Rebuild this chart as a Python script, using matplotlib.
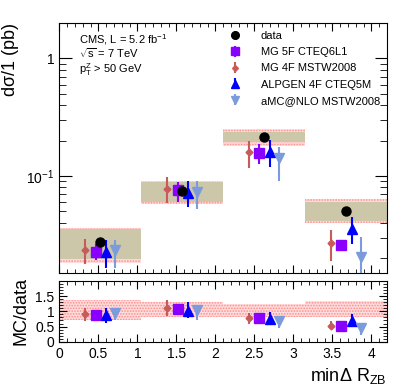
import matplotlib
matplotlib.use('Agg')
import matplotlib.pyplot as plt
import numpy as np
from matplotlib.ticker import MultipleLocator, FixedLocator, NullFormatter

plt.rcParams['font.family'] = ['Liberation Sans', 'DejaVu Sans']
plt.rcParams['mathtext.fontset'] = 'custom'
plt.rcParams['mathtext.rm'] = 'Liberation Sans'
plt.rcParams['mathtext.it'] = 'Liberation Sans'
plt.rcParams['hatch.linewidth'] = 0.8

# bins in min Delta R_ZB
edges = np.array([0, 1.05, 2.1, 3.15, 4.2])

# measured cross section and uncertainty boxes (pb)
data = [0.0274, 0.0746, 0.215, 0.0508]
box_lo = [0.0196, 0.0606, 0.195, 0.0418]
box_hi = [0.0353, 0.0895, 0.235, 0.0606]
band_lo = [0.0184, 0.0578, 0.181, 0.0397]
band_hi = [0.0361, 0.0912, 0.250, 0.0635]

# predictions: value, low, high
mg5f = [0.0226, 0.0760, 0.158, 0.0260]
mg5f_lo = [0.0192, 0.0606, 0.126, 0.0231]
mg5f_hi = [0.0262, 0.0895, 0.189, 0.0288]
mg4f = [0.0235, 0.0780, 0.159, 0.0272]
mg4f_lo = [0.0179, 0.0587, 0.1175, 0.0191]
mg4f_hi = [0.0292, 0.0975, 0.198, 0.0349]
alpgen = [0.0225, 0.0722, 0.159, 0.0353]
alpgen_lo = [0.0166, 0.0543, 0.120, 0.0264]
alpgen_hi = [0.0287, 0.0912, 0.202, 0.0452]
amc = [0.0233, 0.0738, 0.141, 0.0207]
amc_lo = [0.0166, 0.0522, 0.0912, 0.012]
amc_hi = [0.0287, 0.0912, 0.177, 0.0302]

# ratio MC/data
r_band_lo = [0.72, 0.81, 0.83, 0.80]
r_band_hi = [1.39, 1.30, 1.25, 1.33]
r_mg5f = [0.88, 1.08, 0.78, 0.52]
r_mg5f_lo = [0.82, 0.95, 0.68, 0.47]
r_mg5f_hi = [0.94, 1.20, 0.88, 0.57]
r_mg4f = [0.91, 1.11, 0.78, 0.53]
r_mg4f_lo = [0.67, 0.86, 0.58, 0.41]
r_mg4f_hi = [1.11, 1.39, 0.95, 0.67]
r_alpgen = [0.87, 1.00, 0.76, 0.69]
r_alpgen_lo = [0.63, 0.78, 0.59, 0.56]
r_alpgen_hi = [1.11, 1.31, 0.98, 0.91]
r_amc = [0.95, 1.06, 0.69, 0.45]
r_amc_lo = [0.72, 0.72, 0.45, 0.22]
r_amc_hi = [1.11, 1.17, 0.81, 0.58]

centers = 0.5 * (edges[:-1] + edges[1:])
widths = np.diff(edges)

TAN = '#cdc7a9'
PINK = '#ff8c8c'
PINKFILL = '#ffdcdc'
C5F = '#8a00ff'
C4F = '#c85a5a'
CALP = '#0000ff'
CAMC = '#7b9bdc'


def errs(v, lo, hi):
    v = np.array(v)
    return [v - np.array(lo), np.array(hi) - v]


fig = plt.figure(figsize=(3.99, 3.87), dpi=100)
ax = fig.add_axes([0.1486, 0.2946, 0.97 - 0.1486, 0.9406 - 0.2946])
axr = fig.add_axes([0.1486, 0.117, 0.97 - 0.1486, 0.2739 - 0.117])

# top panel
for i in range(len(data)):
    ax.bar(edges[i], band_hi[i] - band_lo[i], width=widths[i], bottom=band_lo[i], align='edge',
           facecolor=PINKFILL, edgecolor=PINK, hatch='......', linewidth=0, zorder=1)
    ax.bar(edges[i], box_hi[i] - box_lo[i], width=widths[i], bottom=box_lo[i], align='edge',
           color=TAN, linewidth=0, zorder=2)

ax.plot(centers, data, 'o', color='black', ms=6.5, zorder=6, label='data')
ax.errorbar(centers - 0.06, mg5f, yerr=errs(mg5f, mg5f_lo, mg5f_hi), fmt='s', color=C5F,
            ms=6.5, elinewidth=1.5, capsize=0, zorder=4, label='MG 5F CTEQ6L1')
ax.errorbar(centers - 0.19, mg4f, yerr=errs(mg4f, mg4f_lo, mg4f_hi), fmt='D', color=C4F,
            ms=3.5, elinewidth=1.5, capsize=0, zorder=4, label='MG 4F MSTW2008')
ax.errorbar(centers + 0.07, alpgen, yerr=errs(alpgen, alpgen_lo, alpgen_hi), fmt='^', color=CALP,
            ms=7, elinewidth=1.5, capsize=0, zorder=4, label='ALPGEN 4F CTEQ5M')
ax.errorbar(centers + 0.19, amc, yerr=errs(amc, amc_lo, amc_hi), fmt='v', color=CAMC,
            ms=7, elinewidth=1.5, capsize=0, zorder=4, label='aMC@NLO MSTW2008')

ax.set_yscale('log')
ax.set_xlim(0, 4.2)
ax.set_ylim(0.015, 2)
ax.yaxis.set_major_locator(FixedLocator([0.1, 1]))
ax.set_yticklabels(['$10^{-1}$', '1'])
ax.yaxis.set_minor_locator(FixedLocator([0.02, 0.03, 0.04, 0.05, 0.06, 0.07, 0.08, 0.09,
                                         0.2, 0.3, 0.4, 0.5, 0.6, 0.7, 0.8, 0.9, 2]))
ax.yaxis.set_minor_formatter(NullFormatter())
ax.xaxis.set_major_locator(MultipleLocator(0.5))
ax.xaxis.set_minor_locator(MultipleLocator(0.1))
ax.set_xticklabels([])
ax.tick_params(which='both', direction='in', top=True, right=True, labelsize=10)
ax.tick_params(axis='y', which='major', length=9)
ax.tick_params(axis='y', which='minor', length=5)
ax.tick_params(axis='x', which='major', length=6)
ax.tick_params(axis='x', which='minor', length=3)
ax.set_ylabel('d$\\sigma$/1 (pb)', fontsize=13, loc='top')

ax.text(0.06, 0.935, 'CMS, L = 5.2 fb$^{-1}$', transform=ax.transAxes, fontsize=8, va='center')
ax.text(0.06, 0.88, '$\\sqrt{\\rm s}$ = 7 TeV', transform=ax.transAxes, fontsize=8, va='center')
ax.text(0.06, 0.815, 'p$_{\\rm T}^{\\rm Z}$ > 50 GeV', transform=ax.transAxes, fontsize=8, va='center')

leg = ax.legend(loc='upper left', bbox_to_anchor=(0.49, 0.985), frameon=False, fontsize=8,
                handletextpad=1.3, labelspacing=0.55, borderaxespad=0, markerscale=0.85)

# ratio panel
for i in range(len(data)):
    axr.bar(edges[i], r_band_hi[i] - r_band_lo[i], width=widths[i], bottom=r_band_lo[i], align='edge',
            facecolor=PINKFILL, edgecolor=PINK, hatch='......', linewidth=0, zorder=1)

axr.errorbar(centers - 0.06, r_mg5f, yerr=errs(r_mg5f, r_mg5f_lo, r_mg5f_hi), fmt='s', color=C5F,
             ecolor='black', ms=6.5, elinewidth=1.2, capsize=0, zorder=4)
axr.errorbar(centers - 0.19, r_mg4f, yerr=errs(r_mg4f, r_mg4f_lo, r_mg4f_hi), fmt='D', color=C4F,
             ms=3.5, elinewidth=1.5, capsize=0, zorder=4)
axr.errorbar(centers + 0.07, r_alpgen, yerr=errs(r_alpgen, r_alpgen_lo, r_alpgen_hi), fmt='^', color=CALP,
             ms=7, elinewidth=1.5, capsize=0, zorder=4)
axr.errorbar(centers + 0.19, r_amc, yerr=errs(r_amc, r_amc_lo, r_amc_hi), fmt='v', color=CAMC,
             ms=7, elinewidth=1.5, capsize=0, zorder=4)

axr.set_xlim(0, 4.2)
axr.set_ylim(0, 2.0)
axr.yaxis.set_major_locator(FixedLocator([0, 0.5, 1, 1.5]))
axr.set_yticklabels(['0', '0.5', '1', '1.5'])
axr.yaxis.set_minor_locator(MultipleLocator(0.1))
axr.set_xticks(np.arange(0, 4.01, 0.5))
axr.set_xticklabels(['0', '0.5', '1', '1.5', '2', '2.5', '3', '3.5', '4'])
axr.xaxis.set_minor_locator(MultipleLocator(0.1))
axr.tick_params(which='both', direction='in', top=True, right=True, labelsize=10)
axr.tick_params(which='major', length=6)
axr.tick_params(which='minor', length=3)
axr.set_ylabel('MC/data', fontsize=13)
axr.set_xlabel('min$\\Delta$ R$_{\\rm ZB}$', fontsize=13, loc='right')

fig.savefig('out.png', dpi=100)
